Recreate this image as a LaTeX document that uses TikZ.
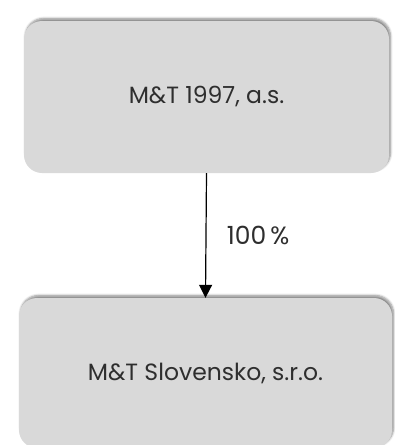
\documentclass[tikz,border=0pt]{standalone}
\usepackage{fontspec}
\setmainfont{Poppins}
\usetikzlibrary{arrows.meta,shadows.blur}
\definecolor{boxgray}{HTML}{D9D9D9}
\definecolor{textgray}{HTML}{2E2E2E}
\begin{document}
\begin{tikzpicture}[x=1pt, y=-1pt,
    firm/.style={rectangle, rounded corners=18pt, fill=boxgray,
      text=textgray, font=\fontsize{23.5}{28}\selectfont,
      blur shadow={shadow xshift=1.5pt, shadow yshift=2.5pt,
        shadow opacity=45, shadow blur steps=6}}]
    \useasboundingbox (0,0) rectangle (395,445);
    \begin{scope}[every node/.style={firm}]
      \node [minimum width=365pt, minimum height=152pt] (parent) at
      (206.5,97) {M\&T 1997, a.s.}; \node [minimum width=373pt,
      minimum height=150pt] (sub) at (205.5,373) {M\&T Slovensko,
      s.r.o.};
    \end{scope}
    \begin{scope}[-{Triangle[width=13pt,length=13pt]}, line width=1.2pt]
      \draw (parent.south) to node [right=17pt, text=textgray,
      font=\fontsize{25}{30}\selectfont] (share) {100\,\%}
      (sub.north);
    \end{scope}
\end{tikzpicture}
\end{document}
